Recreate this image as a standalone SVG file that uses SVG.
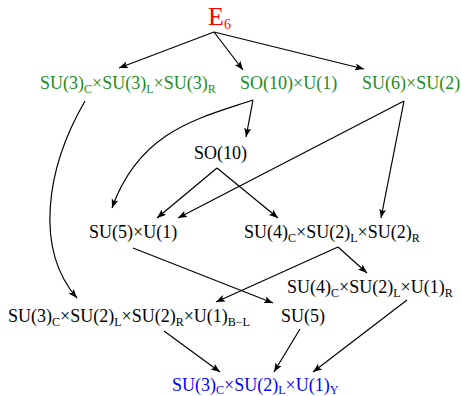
<svg xmlns="http://www.w3.org/2000/svg" width="462" height="396" viewBox="0 0 462 396">
<defs>
<marker id="ah" markerWidth="10" markerHeight="8" refX="9" refY="3.5" orient="auto" markerUnits="userSpaceOnUse">
<path d="M0,0 L9,3.5 L0,7 L2,3.5 z" fill="#000"/>
</marker>
<style>
text{font-family:"Liberation Serif","Times New Roman",serif;font-size:18px;fill:#000}
.g{fill:#228b22}
.b{fill:#0000ff}
.r{fill:#ff0000}
.s{font-size:12px}
.c{fill:none;stroke:#000;stroke-width:1.2;marker-end:url(#ah)}
</style>
</defs>
<rect width="462" height="396" fill="#fff"/>
<g id="connectors">
<path class="c" d="M214,32 L119,68"/>
<path class="c" d="M214,32 L243,70"/>
<path class="c" d="M214,32 L364,69"/>
<path class="c" d="M85,101 C45,170 35,250 77,298"/>
<path class="c" d="M253,100 L246,137"/>
<path class="c" d="M253,100 C200,118 140,130 112,208"/>
<path class="c" d="M404,101 L381,218"/>
<path class="c" d="M404,101 L178,218"/>
<path class="c" d="M217,168 L157,218"/>
<path class="c" d="M217,168 L278,218"/>
<path class="c" d="M133,248 L273,303"/>
<path class="c" d="M338,247 L216,302"/>
<path class="c" d="M338,247 L367,273"/>
<path class="c" d="M164,331 L220,372"/>
<path class="c" d="M300,329 L274,372"/>
<path class="c" d="M407,300 L313,372"/>
</g>
<g id="E6"><text x="208" y="25" class="r" style="font-size:26px">E<tspan dy="4" style="font-size:14px">6</tspan></text></g>
<g id="SU3SU3SU3"><text x="40" y="89" class="g">SU(3)<tspan class="s" dy="4">C</tspan><tspan dy="-4">×SU(3)</tspan><tspan class="s" dy="4">L</tspan><tspan dy="-4">×SU(3)</tspan><tspan class="s" dy="4">R</tspan></text></g>
<g id="SO10U1"><text x="240" y="89" class="g">SO(10)×U(1)</text></g>
<g id="SU6SU2"><text x="362" y="89" class="g">SU(6)×SU(2)</text></g>
<g id="SO10"><text x="194" y="159">SO(10)</text></g>
<g id="SU5U1"><text x="89" y="238">SU(5)×U(1)</text></g>
<g id="PS"><text x="244" y="238">SU(4)<tspan class="s" dy="4">C</tspan><tspan dy="-4">×SU(2)</tspan><tspan class="s" dy="4">L</tspan><tspan dy="-4">×SU(2)</tspan><tspan class="s" dy="4">R</tspan></text></g>
<g id="PSU1"><text x="287" y="293">SU(4)<tspan class="s" dy="4">C</tspan><tspan dy="-4">×SU(2)</tspan><tspan class="s" dy="4">L</tspan><tspan dy="-4">×U(1)</tspan><tspan class="s" dy="4">R</tspan></text></g>
<g id="LR"><text x="8" y="322">SU(3)<tspan class="s" dy="4">C</tspan><tspan dy="-4">×SU(2)</tspan><tspan class="s" dy="4">L</tspan><tspan dy="-4">×SU(2)</tspan><tspan class="s" dy="4">R</tspan><tspan dy="-4">×U(1)</tspan><tspan class="s" dy="4">B−L</tspan></text></g>
<g id="SU5"><text x="281" y="322">SU(5)</text></g>
<g id="SM"><text x="172" y="391" class="b">SU(3)<tspan class="s" dy="3">C</tspan><tspan dy="-3">×SU(2)</tspan><tspan class="s" dy="3">L</tspan><tspan dy="-3">×U(1)</tspan><tspan class="s" dy="3">Y</tspan></text></g>
</svg>
